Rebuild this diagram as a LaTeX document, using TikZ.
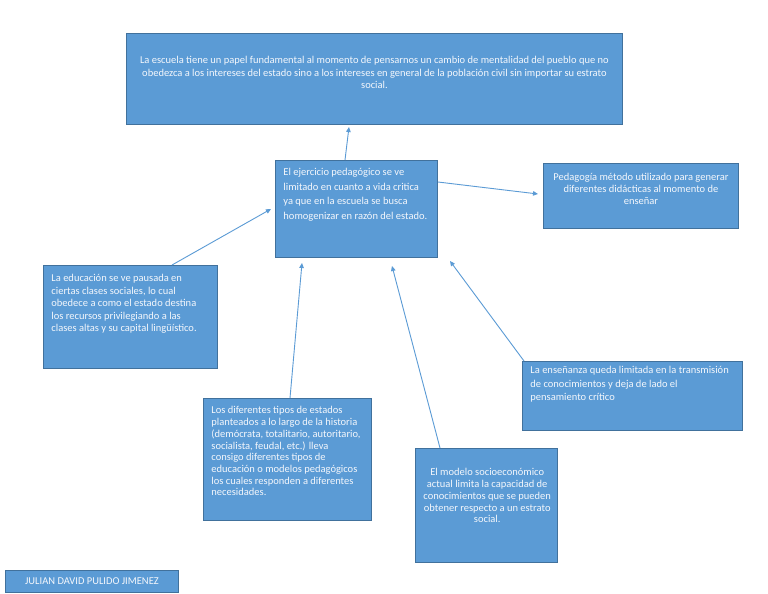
\documentclass[tikz,border=0pt]{standalone}
\usepackage{fontspec}
\setmainfont{Carlito}
\usetikzlibrary{arrows.meta}
\definecolor{boxfill}{HTML}{5B9BD5}
\definecolor{boxline}{HTML}{41719C}
\definecolor{boxtext}{HTML}{F4F7FC}
\newcommand\boxl[5]{\parbox[t][#2pt][t]{#1pt}{\fontsize{10.5}{#5pt}\selectfont\vspace*{#3pt}\raggedright\noindent\begin{tabular}[t]{@{}l@{}}#4\end{tabular}}}
\newcommand\boxc[5]{\parbox[t][#2pt][t]{#1pt}{\fontsize{10.5}{#5pt}\selectfont\vspace*{#3pt}\centering\begin{tabular}[t]{@{}c@{}}#4\end{tabular}\par}}
\tikzset{
  box/.style={draw=boxline, fill=boxfill, line width=0.9pt, text=boxtext,
    inner xsep=8pt, inner ysep=0pt, anchor=north west},
  link/.style={draw=boxfill, line width=0.9pt, -{Triangle[length=5pt,width=4.5pt]}}
}
\begin{document}
\begin{tikzpicture}[x=1pt,y=-1pt]
\useasboundingbox (0,0) rectangle (768,594);
\fill[white] (0,0) rectangle (768,594);

\node[box] (top) at (126,33) {\boxc{480}{91}{21.7}{La escuela tiene un papel fundamental al momento de pensarnos un cambio de mentalidad del pueblo que no\\obedezca a los intereses del estado sino a los intereses en general de la población civil sin importar su estrato\\social.}{12.5}};

\node[box] (ctr) at (275,160) {\boxl{146}{97}{5.3}{El ejercicio pedagógico se ve\\limitado en cuanto a vida critica\\ya que en la escuela se busca\\homogenizar en razón del estado.}{14.5}};

\node[box] (rgt) at (543,163) {\boxc{179}{65}{9.3}{Pedagogía método utilizado para generar\\diferentes didácticas al momento de\\enseñar}{11.7}};

\node[box] (lft) at (43,265) {\boxl{158}{103}{7.75}{La educación se ve pausada en\\ciertas clases sociales, lo cual\\obedece a como el estado destina\\los recursos privilegiando a las\\clases altas y su capital lingüístico.}{12.5}};

\node[box] (lr) at (522,361) {\boxl{204}{69}{3}{La enseñanza queda limitada en la transmisión\\de conocimientos y deja de lado el\\pensamiento crítico}{13.5}};

\node[box] (bl) at (203,398) {\boxl{152}{122}{7.3}{Los diferentes tipos de estados\\planteados a lo largo de la historia\\(demócrata, totalitario, autoritario,\\socialista, feudal, etc.) lleva\\consigo diferentes tipos de\\educación o modelos pedagógicos\\los cuales responden a diferentes\\necesidades.}{11.7}};

\node[box] (bm) at (415,448) {\boxc{126}{114}{19.3}{El modelo socioeconómico\\actual limita la capacidad de\\conocimientos que se pueden\\obtener respecto a un estrato\\social.}{11.7}};

\node[box, minimum width=173pt, minimum height=22pt, inner xsep=0pt, font=\fontsize{10.5}{12}\selectfont] (name) at (5,570) {JULIAN DAVID PULIDO JIMENEZ};

\coordinate (t1) at (349,127);
\coordinate (t2) at (538,194);
\coordinate (t3) at (271,209);
\coordinate (t4) at (302,263);
\coordinate (t5) at (392,266);
\coordinate (t6) at (450,261);

\draw[link] ([xshift=70pt]ctr.north west) -- (t1);
\draw[link] ([yshift=-22pt]ctr.north east) -- (t2);
\draw[link] ([xshift=129pt]lft.north west) -- (t3);
\draw[link] ([xshift=87pt]bl.north west) -- (t4);
\draw[link] ([xshift=25pt]bm.north west) -- (t5);
\draw[link] ([xshift=2pt]lr.north west) -- (t6);
\end{tikzpicture}
\end{document}
